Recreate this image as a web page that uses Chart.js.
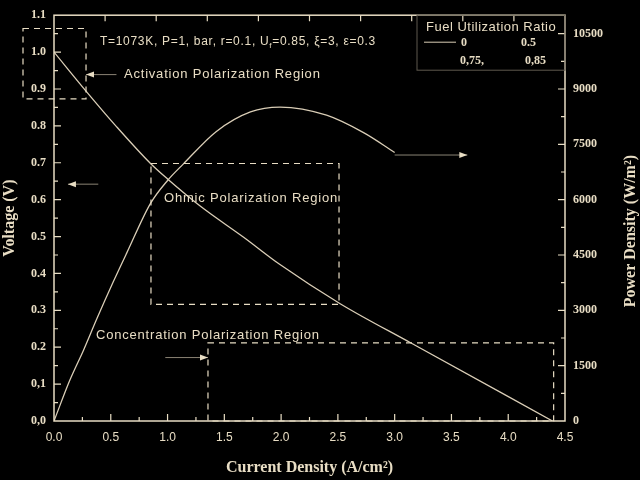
<!DOCTYPE html>
<html>
<head>
<meta charset="utf-8">
<script src="https://cdn.jsdelivr.net/npm/chart.js@4/dist/chart.umd.min.js"></script>
<style>
  html, body { margin: 0; padding: 0; background: #000; }
  #wrap { width: 640px; height: 480px; }
</style>
</head>
<body>
<div id="wrap"><canvas id="fuelCell" width="640" height="480"></canvas></div>
<script>
// values
const voltCurrent = [0, 0.28, 0.55, 0.85, 1.0, 1.29, 1.67, 1.99, 2.52, 3.14, 4.39];
const voltage = [1.0, 0.895, 0.798, 0.698, 0.656, 0.582, 0.498, 0.424, 0.318, 0.212, 0.0];
const powerCurrent = [0, 0.14, 0.26, 0.38, 0.52, 0.64, 0.85, 1.0, 1.14, 1.43, 1.73, 1.99, 2.4, 2.73, 3.0];
const powerDensity = [0, 1110, 1920, 2790, 3760, 4550, 5900, 6520, 6970, 7850, 8380, 8510, 8290, 7810, 7280];
const voltTickLabels = ['0,0', '0,1', '0.2', '0.3', '0.4', '0.5', '0.6', '0.7', '0.8', '0.9', '1.0', '1.1'];
const powerTicks = [0, 1500, 3000, 4500, 6000, 7500, 9000, 10500];
const legendTitle = 'Fuel Utilization Ratio';
const legendItems = ['0', '0.5', '0,75,', '0,85'];

const ink = '#e8ddc4';
const curve = '#d9cdb6';
const serif = "'Liberation Serif', 'DejaVu Serif', serif";
const sans = "'Liberation Sans', Arial, sans-serif";

function arrow(ctx, x1, x2, y) {
  ctx.save();
  ctx.strokeStyle = '#8a8374';
  ctx.lineWidth = 1;
  ctx.beginPath(); ctx.moveTo(x1, y); ctx.lineTo(x2, y); ctx.stroke();
  const d = x2 > x1 ? -1 : 1;
  ctx.fillStyle = ink;
  ctx.beginPath();
  ctx.moveTo(x2, y);
  ctx.lineTo(x2 + d * 8, y - 3);
  ctx.lineTo(x2 + d * 8, y + 3);
  ctx.closePath(); ctx.fill();
  ctx.restore();
}

function dashedBox(ctx, x1, y1, x2, y2) {
  ctx.save();
  ctx.strokeStyle = ink;
  ctx.lineWidth = 1.2;
  ctx.setLineDash([6, 5]);
  ctx.strokeRect(x1, y1, x2 - x1, y2 - y1);
  ctx.restore();
}

const decorations = {
  id: 'decorations',
  afterDraw(chart) {
    const { ctx, chartArea: ca, scales } = chart;
    const X = v => scales.x.getPixelForValue(v);
    const Y = v => scales.y.getPixelForValue(v);
    const P = v => scales.y2.getPixelForValue(v);

    // frame
    ctx.save();
    ctx.strokeStyle = ink;
    ctx.lineWidth = 1.5;
    ctx.strokeRect(ca.left, ca.top, ca.right - ca.left, ca.bottom - ca.top);

    // inward ticks
    ctx.lineWidth = 1.2;
    ctx.beginPath();
    for (let i = 1; i < 18; i++) {
      const px = X(i * 0.25), len = i % 2 ? 4 : 7;
      ctx.moveTo(px, ca.bottom); ctx.lineTo(px, ca.bottom - len);
    }
    for (let i = 1; i < 10; i++) {
      const px = ca.left + (ca.right - ca.left) * i / 10;
      ctx.moveTo(px, ca.top); ctx.lineTo(px, ca.top + 6);
    }
    for (let i = 1; i < 22; i++) {
      const py = Y(i * 0.05), len = i % 2 ? 4 : 7;
      ctx.moveTo(ca.left, py); ctx.lineTo(ca.left + len, py);
    }
    for (let i = 1; i < 15; i++) {
      const py = P(i * 750), len = i % 2 ? 4 : 7;
      ctx.moveTo(ca.right, py); ctx.lineTo(ca.right - len, py);
    }
    ctx.stroke();

    // right axis title, reading bottom to top
    ctx.fillStyle = ink;
    ctx.font = 'bold 16px ' + serif;
    ctx.textAlign = 'center';
    ctx.textBaseline = 'middle';
    ctx.translate(631, (ca.top + ca.bottom) / 2 + 13);
    ctx.rotate(-Math.PI / 2);
    ctx.fillText('Power Density (W/m²)', 0, 0);
    ctx.restore();

    // region boxes
    dashedBox(ctx, X(-0.273), Y(1.064), X(0.282), Y(0.873));
    dashedBox(ctx, X(0.854), Y(0.698), X(2.51), Y(0.316));
    dashedBox(ctx, X(1.356), Y(0.212), X(4.40), Y(0.0));

    arrow(ctx, X(0.55), X(0.282), Y(0.939));
    arrow(ctx, X(0.39), X(0.123), Y(0.642));
    arrow(ctx, X(0.98), X(1.356), Y(0.172));
    arrow(ctx, X(3.0), X(3.64), Y(0.721));

    ctx.save();
    ctx.fillStyle = ink;
    ctx.font = '13px ' + sans;
    ctx.letterSpacing = '0.8px';
    ctx.textBaseline = 'middle';
    ctx.textAlign = 'left';
    ctx.fillText('Activation Polarization Region', X(0.616), Y(0.939));
    ctx.fillText('Ohmic Polarization Region', X(0.969), Y(0.602));
    ctx.fillText('Concentration Polarization Region', X(0.37), Y(0.233));

    // parameter line with subscript
    ctx.letterSpacing = '0.7px';
    let tx = X(0.405);
    const ty = Y(1.029);
    const parts = [['T=1073K, P=1, bar, r=0.1, U', 0, 12], ['f', 4, 8], ['=0.85, ξ=3, ε=0.3', 0, 12]];
    parts.forEach(([s, dy, size]) => {
      ctx.font = size + 'px ' + sans;
      ctx.fillText(s, tx, ty + dy);
      tx += ctx.measureText(s).width;
    });

    // legend box
    const lx = ca.right - 148, ly = ca.top;
    ctx.strokeStyle = '#5e594e';
    ctx.lineWidth = 1;
    ctx.strokeRect(lx, ly, 148, 55);
    ctx.font = '13px ' + sans;
    ctx.letterSpacing = '0.5px';
    ctx.fillText(legendTitle, lx + 9, ly + 12);
    ctx.letterSpacing = '0px';
    ctx.strokeStyle = curve;
    ctx.beginPath(); ctx.moveTo(lx + 7, ly + 27); ctx.lineTo(lx + 39, ly + 27); ctx.stroke();
    ctx.font = 'bold 12px ' + serif;
    ctx.fillText(legendItems[0], lx + 44, ly + 28);
    ctx.fillText(legendItems[1], lx + 104, ly + 28);
    ctx.fillText(legendItems[2], lx + 43, ly + 46);
    ctx.fillText(legendItems[3], lx + 108, ly + 46);
    ctx.restore();
  }
};

new Chart(document.getElementById('fuelCell'), {
  type: 'line',
  data: {
    datasets: [
      {
        label: 'Voltage',
        data: voltCurrent.map((c, i) => ({ x: c, y: voltage[i] })),
        yAxisID: 'y',
        borderColor: curve, borderWidth: 1.3, pointRadius: 0,
        cubicInterpolationMode: 'monotone'
      },
      {
        label: 'Power Density',
        data: powerCurrent.map((c, i) => ({ x: c, y: powerDensity[i] })),
        yAxisID: 'y2',
        borderColor: curve, borderWidth: 1.3, pointRadius: 0,
        cubicInterpolationMode: 'monotone'
      }
    ]
  },
  options: {
    responsive: false,
    animation: false,
    layout: { padding: { top: 7, left: 0, right: 0, bottom: 0 } },
    plugins: { legend: { display: false }, tooltip: { enabled: false } },
    scales: {
      x: {
        type: 'linear', min: 0, max: 4.5,
        afterFit: s => { s.height = 59; },
        grid: { display: false, drawTicks: false },
        border: { display: false },
        ticks: { stepSize: 0.5, padding: 9, color: ink, font: { family: sans, size: 12 },
                 callback: v => v.toFixed(1) },
        title: { display: true, text: 'Current Density (A/cm²)', color: ink,
                 font: { family: serif, size: 16, weight: 'bold' }, padding: { top: 0, bottom: 3 } }
      },
      y: {
        position: 'left', min: 0, max: 1.1,
        afterFit: s => { s.width = 54; },
        grid: { display: false, drawTicks: false },
        border: { display: false },
        ticks: { stepSize: 0.1, padding: 8, color: ink, font: { family: serif, size: 12, weight: 'bold' },
                 callback: v => voltTickLabels[Math.round(v * 10)] },
        title: { display: true, text: 'Voltage (V)', color: ink,
                 font: { family: serif, size: 16, weight: 'bold' }, padding: { top: 0, bottom: 0 } }
      },
      y2: {
        position: 'right', min: 0, max: 11000,
        afterFit: s => { s.width = 75; },
        afterBuildTicks: s => { s.ticks = powerTicks.map(v => ({ value: v })); },
        grid: { display: false, drawTicks: false },
        border: { display: false },
        ticks: { padding: 8, color: ink,
                 font: { family: serif, size: 12, weight: 'bold' },
                 callback: v => String(v) }
      }
    }
  },
  plugins: [decorations]
});
</script>
</body>
</html>
